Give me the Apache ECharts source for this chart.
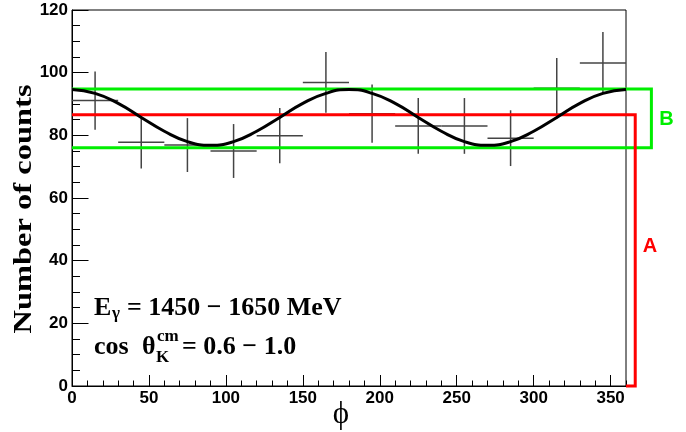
<!DOCTYPE html>
<html><head><meta charset="utf-8">
<script src="https://cdn.jsdelivr.net/npm/echarts@6/dist/echarts.min.js"></script>
<style>html,body{margin:0;padding:0;background:#fff}#c{width:686px;height:432px}</style>
</head><body><div id="c"></div>
<script>
// ---- data ----
const binCenters = [15, 45, 75, 105, 135, 165, 195, 225, 255, 285, 315, 345];
const counts     = [91.1, 77.8, 76.9, 75.0, 79.9, 96.9, 86.9, 83.0, 83.0, 79.1, 95.0, 103.1];
const errors     = [9.3, 8.4, 8.6, 8.6, 8.8, 9.7, 9.3, 8.9, 8.9, 8.9, 9.7, 9.9];
const binHalfWidth = 15;
const curvePhi  = [0,15,30,45,60,75,90,105,120,135,150,165,180,195,210,225,240,255,270,285,300,315,330,345,360];
const curveVals = [94.6,93.4,90.2,85.7,81.3,78.0,76.8,78.0,81.3,85.7,90.2,93.4,94.6,93.4,90.2,85.7,81.3,78.0,76.8,78.0,81.3,85.7,90.2,93.4,94.6];
const boxAx = [0, 366, 366, 360];
const boxAy = [86.6, 86.6, 0, 0];
const boxBx = [0, 376.5, 376.5, 0];
const boxBy = [94.8, 94.8, 76.0, 76.0];
const xMajorTicks = [0, 50, 100, 150, 200, 250, 300, 350];
const yTicks = [0, 20, 40, 60, 80, 100, 120];

const chart = echarts.init(document.getElementById('c'), null, {renderer: 'canvas'});
const labelFont = {color: '#000', fontFamily: 'Liberation Sans', fontWeight: 'bold', fontSize: 17};
const serif = '"Liberation Serif", "DejaVu Serif", serif';

function boxSeries(xs, ys, color, z) {
  return {
    type: 'custom', xAxisIndex: 0, z: z, clip: false, silent: true,
    data: [[xs[0], ys[0]]],
    encode: {x: 0, y: 1},
    renderItem: function (params, api) {
      const pts = xs.map((x, i) => api.coord([x, ys[i]]));
      return {type: 'polyline', shape: {points: pts},
        style: {stroke: color, lineWidth: 3, fill: null, lineJoin: 'miter'}};
    }
  };
}

chart.setOption({
  animation: false,
  backgroundColor: '#fff',
  grid: {left: 72, top: 10, right: 60, bottom: 46, show: true, borderColor: '#000', borderWidth: 1, backgroundColor: 'transparent'},
  xAxis: [{
    type: 'value', min: 0, max: 360, interval: 50,
    axisLine: {lineStyle: {color: '#000', width: 1}},
    axisTick: {inside: true, length: 11, lineStyle: {color: '#000'}},
    axisLabel: Object.assign({margin: 4, showMaxLabel: false,
      formatter: v => xMajorTicks.indexOf(v) >= 0 ? String(v) : ''}, labelFont),
    splitLine: {show: false}
  }, {
    type: 'value', min: 0, max: 360, interval: 10, position: 'bottom',
    axisLine: {show: false},
    axisTick: {inside: true, length: 5.5, lineStyle: {color: '#000'}},
    axisLabel: {show: false}, splitLine: {show: false}
  }],
  yAxis: {
    type: 'value', min: 0, max: 120, interval: 20,
    axisLine: {show: true, lineStyle: {color: '#000', width: 1}},
    axisTick: {show: true, inside: true, length: 16.5, lineStyle: {color: '#000'}},
    minorTick: {show: true, splitNumber: 4, length: 8, lineStyle: {color: '#000'}},
    axisLabel: Object.assign({margin: 4,
      formatter: v => yTicks.indexOf(v) >= 0 ? String(v) : ''}, labelFont),
    splitLine: {show: false}
  },
  series: [{
    type: 'custom', xAxisIndex: 0, z: 2, clip: false,
    data: binCenters.map((x, i) => [x, counts[i], errors[i]]),
    encode: {x: 0, y: 1},
    renderItem: function (params, api) {
      const x = api.value(0), y = api.value(1), e = api.value(2);
      const pL = api.coord([x - binHalfWidth, y]), pR = api.coord([x + binHalfWidth, y]);
      const pT = api.coord([x, y + e]), pB = api.coord([x, y - e]);
      const st = {stroke: '#444', lineWidth: 1.5};
      return {type: 'group', children: [
        {type: 'line', shape: {x1: pL[0], y1: pL[1], x2: pR[0], y2: pR[1]}, style: st},
        {type: 'line', shape: {x1: pT[0], y1: pT[1], x2: pB[0], y2: pB[1]}, style: st}
      ]};
    }
  },
  boxSeries(boxBx, boxBy, '#00ee00', 3),
  boxSeries(boxAx, boxAy, '#ff0000', 4),
  {
    type: 'line', z: 5, clip: false, symbol: 'none', silent: true, smooth: true,
    data: curvePhi.map((x, i) => [x, curveVals[i]]),
    lineStyle: {color: '#000', width: 3}
  }],
  graphic: [
    {type: 'text', x: 24, y: 209, rotation: Math.PI / 2, scaleX: 1.25,
     style: {text: 'Number of counts', font: 'bold 26px ' + serif, align: 'center', verticalAlign: 'middle', fill: '#000'}},
    {type: 'text', x: 341, y: 415,
     style: {text: '\u03D5', font: '31px ' + serif, align: 'center', verticalAlign: 'middle', fill: '#000'}},
    {type: 'text', x: 94, y: 308,
     style: {text: 'E', font: 'bold 26px ' + serif, align: 'left', verticalAlign: 'middle', fill: '#000'}},
    {type: 'text', x: 112, y: 314,
     style: {text: '\u03B3', font: 'bold 17px ' + serif, align: 'left', verticalAlign: 'middle', fill: '#000'}},
    {type: 'text', x: 127, y: 308,
     style: {text: '= 1450 \u2212 1650 MeV', font: 'bold 26px ' + serif, align: 'left', verticalAlign: 'middle', fill: '#000'}},
    {type: 'text', x: 94, y: 347.5,
     style: {text: 'cos', font: 'bold 26px ' + serif, align: 'left', verticalAlign: 'middle', fill: '#000'}},
    {type: 'text', x: 142, y: 347.5,
     style: {text: '\u03B8', font: 'bold 26px ' + serif, align: 'left', verticalAlign: 'middle', fill: '#000'}},
    {type: 'text', x: 157, y: 337,
     style: {text: 'cm', font: 'bold 17px ' + serif, align: 'left', verticalAlign: 'middle', fill: '#000'}},
    {type: 'text', x: 156, y: 358,
     style: {text: 'K', font: 'bold 17px ' + serif, align: 'left', verticalAlign: 'middle', fill: '#000'}},
    {type: 'text', x: 182, y: 347.5,
     style: {text: '= 0.6 \u2212 1.0', font: 'bold 26px ' + serif, align: 'left', verticalAlign: 'middle', fill: '#000'}},
    {type: 'text', x: 666.5, y: 119.5,
     style: {text: 'B', font: 'bold 20px "Liberation Sans", sans-serif', align: 'center', verticalAlign: 'middle', fill: '#00ee00'}},
    {type: 'text', x: 650, y: 246.5,
     style: {text: 'A', font: 'bold 20px "Liberation Sans", sans-serif', align: 'center', verticalAlign: 'middle', fill: '#ff0000'}}
  ]
});
</script></body></html>
